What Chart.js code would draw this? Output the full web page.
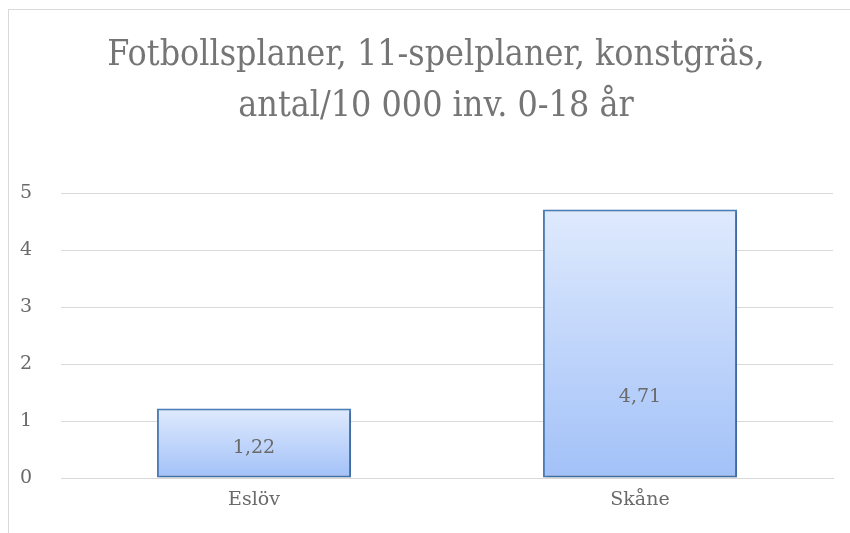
<!DOCTYPE html>
<html>
<head>
<meta charset="utf-8">
<script src="https://cdn.jsdelivr.net/npm/chart.js@4.4.1/dist/chart.umd.min.js"></script>
<style>
  html, body { margin: 0; padding: 0; background: #fff; }
  #wrap { position: relative; width: 850px; height: 533px; overflow: hidden; }
  #frame { position: absolute; left: 8px; top: 9px; width: 900px; height: 600px; border: 1px solid #d9d9d9; box-sizing: border-box; }
  canvas { position: absolute; left: 0; top: 0; }
</style>
</head>
<body>
<div id="wrap">
  <div id="frame"></div>
  <canvas id="c" width="850" height="533"></canvas>
</div>
<script>
const titleLines = ["Fotbollsplaner, 11-spelplaner, konstgräs,", "antal/10 000 inv. 0-18 år"];
const categories = ["Eslöv", "Skåne"];
const values = [1.22, 4.71];
const valueLabels = ["1,22", "4,71"];
const labelAt = [0.52, 1.42];
const yTicks = [0, 1, 2, 3, 4, 5];

const serifC = "'DejaVu Serif Condensed', 'DejaVu Serif', serif";
const serif = "'DejaVu Serif', serif";

const titlePlugin = {
  id: 'titlePlugin',
  afterDraw(chart) {
    const ctx = chart.ctx;
    ctx.save();
    ctx.font = "35.5px " + serifC;
    ctx.fillStyle = '#757575';
    ctx.textAlign = 'center';
    ctx.textBaseline = 'alphabetic';
    titleLines.forEach((t, i) => ctx.fillText(t, 436, 65 + i * 51));
    ctx.restore();
  }
};

const barShadow = {
  id: 'barShadow',
  beforeDatasetDraw(chart) {
    const ctx = chart.ctx;
    ctx.save();
    ctx.shadowColor = 'rgba(0,0,0,0.22)';
    ctx.shadowBlur = 3;
    ctx.shadowOffsetX = 1.5;
    ctx.shadowOffsetY = 1.5;
  },
  afterDatasetDraw(chart) { chart.ctx.restore(); }
};

const valueLabelPlugin = {
  id: 'valueLabelPlugin',
  afterDatasetsDraw(chart) {
    const ctx = chart.ctx;
    const meta = chart.getDatasetMeta(0);
    const y = chart.scales.y;
    ctx.save();
    ctx.font = "19px " + serif;
    ctx.fillStyle = '#6a6a6a';
    ctx.textAlign = 'center';
    ctx.textBaseline = 'middle';
    meta.data.forEach((bar, i) => {
      ctx.fillText(valueLabels[i], bar.x, y.getPixelForValue(labelAt[i]));
    });
    ctx.restore();
  }
};

new Chart(document.getElementById('c'), {
  type: 'bar',
  data: {
    labels: categories,
    datasets: [{
      data: values,
      backgroundColor(ctx) {
        const chart = ctx.chart;
        const ys = chart.scales.y;
        if (!chart.chartArea || !ys || ctx.raw === undefined) return '#c0d5fa';
        const top = ys.getPixelForValue(ctx.raw);
        const bottom = ys.getPixelForValue(0);
        if (!isFinite(top) || !isFinite(bottom)) return '#c0d5fa';
        const g = chart.ctx.createLinearGradient(0, top, 0, bottom);
        g.addColorStop(0, '#dfeafd');
        g.addColorStop(1, '#a2c1f8');
        return g;
      },
      borderColor: '#4a7ebb',
      borderWidth: 2,
      borderSkipped: false,
      barPercentage: 0.503,
      categoryPercentage: 1.0
    }]
  },
  options: {
    responsive: false,
    animation: false,
    devicePixelRatio: 1,
    layout: { padding: { top: 193, left: 0, right: 17, bottom: 0 } },
    plugins: {
      legend: { display: false },
      tooltip: { enabled: false },
      title: { display: false }
    },
    scales: {
      x: {
        grid: { display: false, drawTicks: false },
        border: { display: true, color: '#d9d9d9', width: 1 },
        ticks: { color: '#6a6a6a', font: { family: serif, size: 19 }, padding: 11 },
        afterFit(s) { s.height = 55; }
      },
      y: {
        min: 0, max: 5,
        afterBuildTicks(s) { s.ticks = yTicks.map(v => ({ value: v })); },
        grid: { color: '#d9d9d9', lineWidth: 1, drawTicks: false },
        border: { display: false },
        ticks: { color: '#6a6a6a', font: { family: serif, size: 19 }, padding: 29 },
        afterFit(s) { s.width = 61; }
      }
    }
  },
  plugins: [titlePlugin, barShadow, valueLabelPlugin]
});
</script>
</body>
</html>
